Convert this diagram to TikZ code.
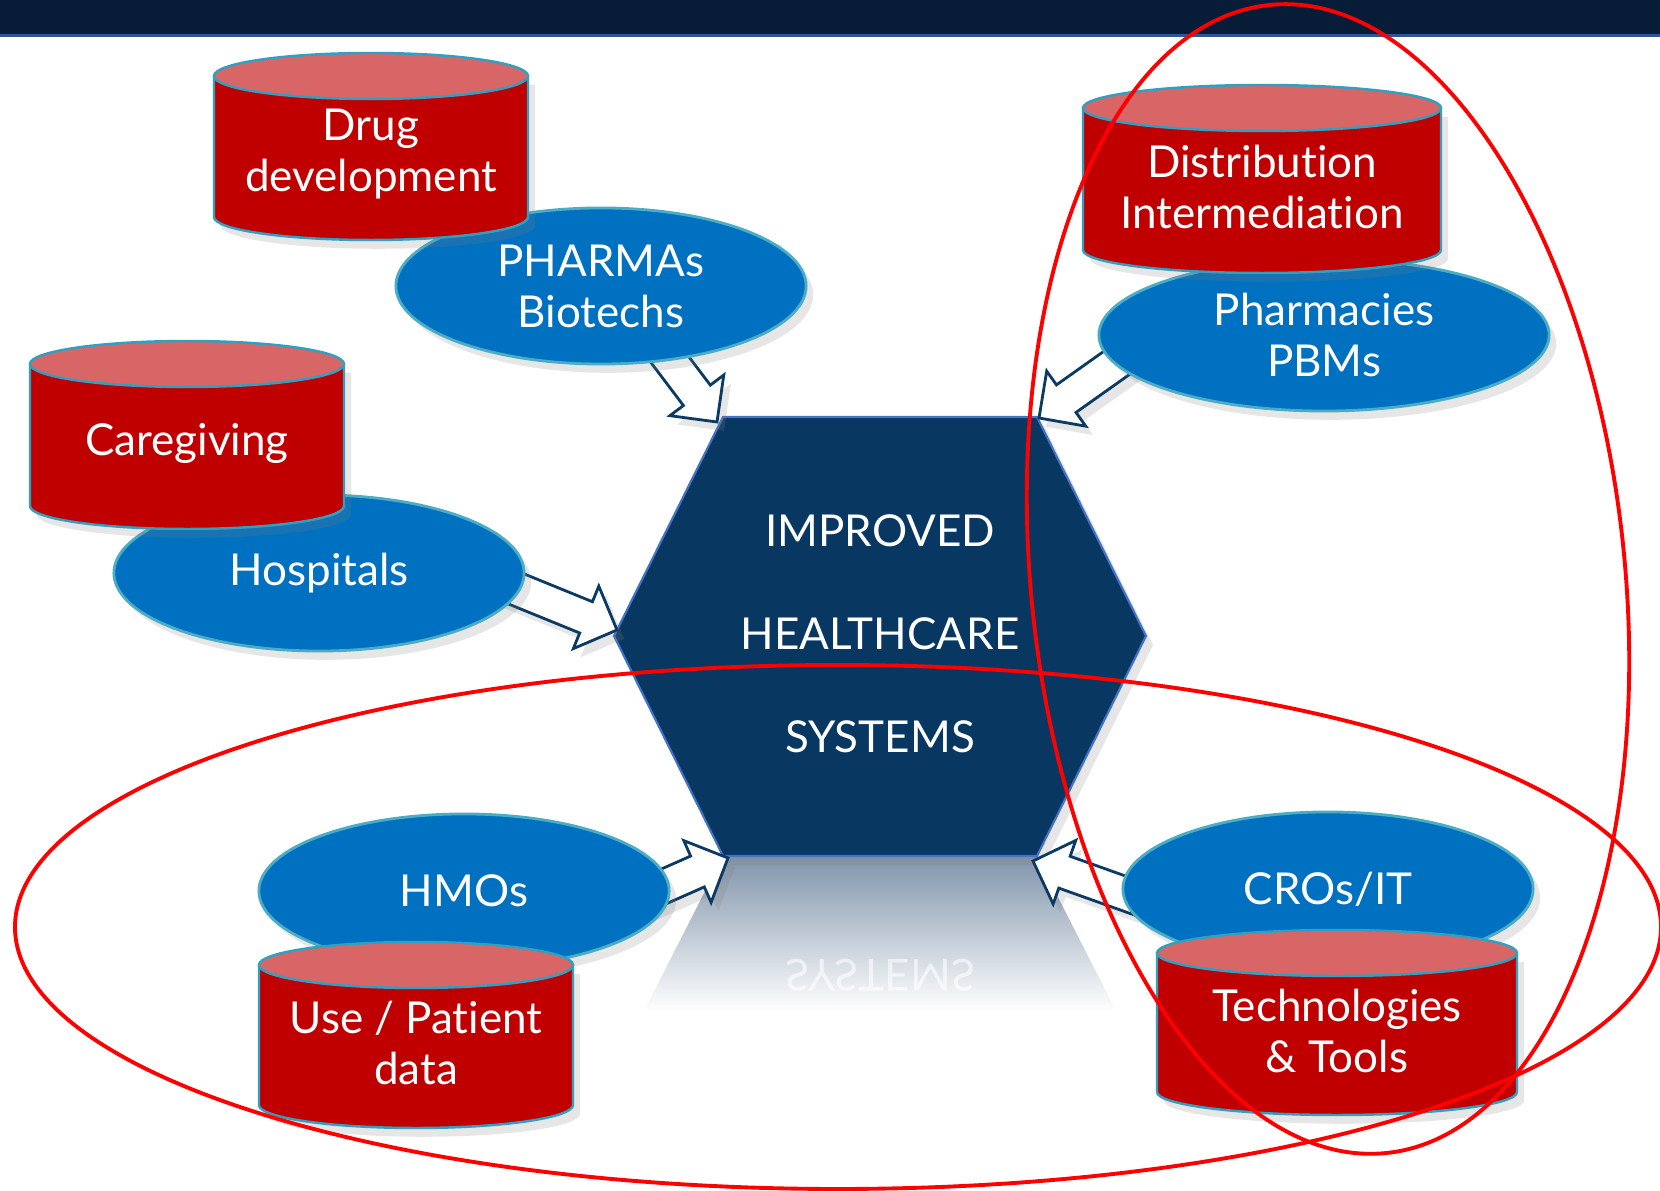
\documentclass[tikz,border=0pt]{standalone}
\usepackage{fontspec}
\setmainfont{Lato}[Ligatures={NoCommon,NoRare,NoContextual}]
\usetikzlibrary{positioning,shapes.geometric,calc,shadows}

\definecolor{barnavy}{RGB}{7,28,54}
\definecolor{barline}{RGB}{47,85,151}
\definecolor{hexfill}{RGB}{8,56,98}
\definecolor{hexline}{RGB}{68,114,196}
\definecolor{ellfill}{RGB}{0,112,192}
\definecolor{ellline}{RGB}{75,172,198}
\definecolor{cylred}{RGB}{192,0,0}
\definecolor{cyltopred}{RGB}{217,102,102}
\definecolor{cylline}{RGB}{49,160,192}
\definecolor{arrline}{RGB}{11,58,99}
\definecolor{reflc}{RGB}{128,148,170}
\definecolor{redring}{RGB}{255,0,0}

\pgfdeclarelayer{back}
\pgfdeclarelayer{arrowlayer}
\pgfsetlayers{back,arrowlayer,main}

\tikzset{
  softshadow/.style={drop shadow={opacity=0.2, shadow xshift=2pt, shadow yshift=-2.5pt}},
  actor/.style={ellipse, draw=ellline, line width=0.8pt, fill=ellfill, text=white,
    minimum width=4.1cm, minimum height=1.56cm, inner sep=0pt, align=center,
    font=\fontsize{12.5}{14.5}\selectfont, softshadow},
  cylbody/.style={fill=cylred, draw=cylline, line width=0.7pt, softshadow},
  cyltop/.style={fill=cyltopred, draw=cylline, line width=0.7pt},
  cyltext/.style={text=white, align=center, font=\fontsize{12.5}{14.5}\selectfont},
  hexagon/.style={fill=hexfill, draw=hexline, line width=0.6pt, softshadow},
  hubtext/.style={text=white, align=center, font=\fontsize{12.5}{29.3}\selectfont},
  blockarrow/.style={fill=white, draw=arrline, line width=0.8pt, line join=miter, softshadow},
  ring/.style={draw=redring, line width=1.1pt}
}

% block arrow from #1 (hidden tail) to tip #2
\newcommand{\blockarrow}[2]{%
  \coordinate (ba-tail) at ($(#1)!-9pt!(#2)$);
  \coordinate (ba-neck) at ($(#2)!9.5pt!(#1)$);
  \filldraw[blockarrow] ($(ba-tail)!4.8pt!90:(#2)$) -- ($(ba-neck)!4.8pt!90:(#2)$)
    -- ($(ba-neck)!9.6pt!90:(#2)$) -- (#2) -- ($(ba-neck)!9.6pt!-90:(#2)$)
    -- ($(ba-neck)!4.8pt!-90:(#2)$) -- ($(ba-tail)!4.8pt!-90:(#2)$) -- cycle;}

% cylinder: name, centre x, top y, bottom y, half width, text
\newcommand{\datacyl}[6]{%
  \filldraw[cylbody] ({#2-#5},{#3-23}) -- ({#2-#5},{#4+23})
    arc[start angle=180, end angle=360, x radius=#5, y radius=23]
    -- ({#2+#5},{#3-23}) -- cycle;
  \filldraw[cyltop] (#2,{#3-23}) ellipse [x radius=#5, y radius=23];
  \node[cyltext] (#1) at (#2,{(#3+#4)/2-8}) {#6};}

\begin{document}
\begin{tikzpicture}[x=0.01cm, y=0.01cm]
  \useasboundingbox (0,0) rectangle (1660,1191);
  \clip (0,0) rectangle (1660,1191);

  \fill[barnavy] (0,1157) rectangle (1660,1191);
  \fill[barline] (0,1154) rectangle (1660,1157);

  \coordinate (hexTL) at (723,774);
  \coordinate (hexTR) at (1037,774);
  \coordinate (hexR) at (1146,555);
  \coordinate (hexBR) at (1037,335);
  \coordinate (hexBL) at (723,335);
  \coordinate (hexL) at (614,555);

  \begin{pgfonlayer}{back}
    % reflection
    \shade[top color=reflc, bottom color=white] (hexBL) -- (hexBR) -- (1116,180) -- (644,180) -- cycle;
    \begin{scope}[shift={(880,216)}, yscale=-1]
      \node[hubtext, transform shape, opacity=0.6] (mirror) at (0,0) {SYSTEMS};
    \end{scope}
    \filldraw[hexagon] (hexTL) -- (hexTR) -- (hexR) -- (hexBR) -- (hexBL) -- (hexL) -- cycle;
  \end{pgfonlayer}
  \node[hubtext] (hub) at (880,557) {IMPROVED\\HEALTHCARE\\SYSTEMS};

  \node[actor] (pharma) at (601,905) {PHARMAs\\Biotechs};
  \node[actor] (hosp) at (319,618) {Hospitals};
  \node[actor, minimum width=4.5cm, minimum height=1.52cm] (pharmacies) at (1324,856) {Pharmacies\\PBMs};
  \node[actor, minimum height=1.54cm] (hmo) at (464,300) {HMOs};
  \node[actor, minimum height=1.54cm] (cro) at (1328,302) {CROs/IT};

  \coordinate (pTL) at (717,769);
  \coordinate (pTR) at (1039,773);
  \coordinate (pL) at (617,561);
  \coordinate (pBL) at (728,333);
  \coordinate (pBR) at (1033,330);

  \begin{pgfonlayer}{arrowlayer}
    \blockarrow{pharma.313}{pTL}
    \blockarrow{pharmacies.188}{pTR}
    \blockarrow{hosp.355}{pL}
    \blockarrow{hmo.2}{pBL}
    \blockarrow{cro.181}{pBR}
  \end{pgfonlayer}

  \datacyl{drug}{371}{1138}{951}{157}{Drug\\development}
  \datacyl{care}{187}{850}{662}{157}{Caregiving}
  \datacyl{dist}{1262}{1106}{918}{179}{Distribution\\Intermediation}
  \datacyl{usedata}{416}{249}{63}{157}{Use / Patient\\data}
  \datacyl{tools}{1337}{261}{76}{180}{Technologies\\\& Tools}

  \draw[ring] (838,264) ellipse [x radius=823, y radius=262];
  \draw[ring, rotate around={5.8:(1328,612)}] (1328,612) ellipse [x radius=297, y radius=577];
\end{tikzpicture}
\end{document}
